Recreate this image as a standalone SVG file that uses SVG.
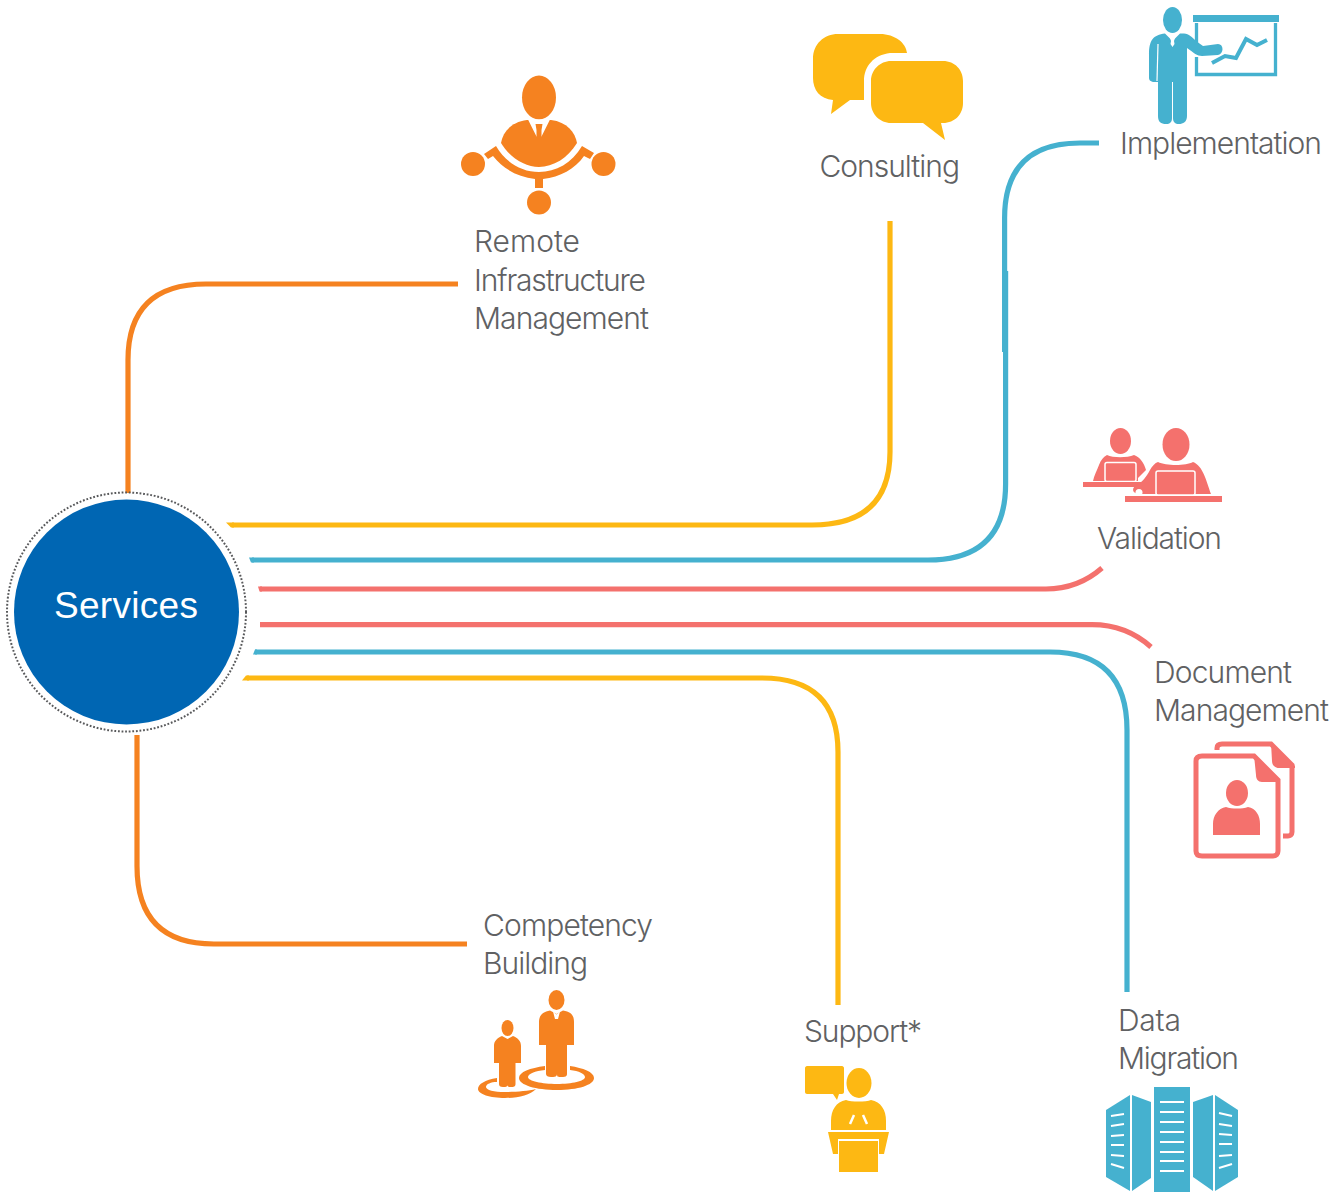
<svg xmlns="http://www.w3.org/2000/svg" width="1341" height="1193" viewBox="0 0 1341 1193">
<style>
.c{fill:none;stroke-width:5.200}
.o{stroke:#f58220}.y{stroke:#fdb813}.b{stroke:#45b1cf}.r{stroke:#f4716d}
.fo{fill:#f58220}.fy{fill:#fdb813}.fb{fill:#45b1cf}.fr{fill:#f4716d}
.t{font-family:"Inter","Liberation Sans",sans-serif;font-weight:300;font-size:30px;fill:#606163}
</style>
<rect width="1341" height="1193" fill="#fff"/>
<g id="connectors">
<path class="c o" d="M128 493V360Q128 284 206 284H458"/>
<path class="c y" d="M232 525H812Q890 525 890 452V221"/>
<polygon class="fy" points="226,522.400 234,522.400 234,527.600 231,527.600"/>
<path class="c b" d="M252 560H928Q1005.600 560 1005.600 484V271M1004.600 352V218Q1004.600 143 1080 143H1099"/>
<polygon class="fb" points="249,557.400 254,557.400 254,562.600 251,562.600"/>
<path class="c r" d="M260 589H1046Q1078 589 1102 568"/>
<polygon class="fr" points="258,586.400 262,586.400 262,591.600 259.500,591.600"/>
<path class="c r" d="M260 624.700H1092Q1126 624.700 1151 647"/>
<path class="c b" d="M255 652H1050Q1127 652 1127 730V992"/>
<polygon class="fb" points="255,649.400 257,649.400 257,654.600 253,654.600"/>
<path class="c y" d="M247 678H762Q838 678 838 752V1005"/>
<polygon class="fy" points="246,675.400 249,675.400 249,680.600 242,680.600"/>
<path class="c o" d="M137 735V866Q137 944 214 944H467"/>
</g>
<g id="services">
<circle cx="126.500" cy="612" r="119.500" fill="none" stroke="#58595b" stroke-width="2" stroke-dasharray="1.800 1.800"/>
<circle cx="126.500" cy="612" r="112.500" fill="#0066b3"/>
<text x="54" y="618" textLength="144" style="font-family:'Liberation Sans',Arial,sans-serif;font-size:37px;fill:#fff">Services</text>
</g>
<g id="remote-infrastructure-management">
<ellipse class="fo" cx="539" cy="97.500" rx="17" ry="22"/>
<path class="fo" d="M527 120C511 122 503 132 501 143C510 158 525 167 539 167C553 167 568 158 577 143C575 132 567 122 551 120Z"/>
<path fill="#fff" d="M528 119.500H550L541.500 136.500H536.500Z"/>
<path class="fo" d="M535.500 124H542.500L541.500 130 541.500 137H536.500L536.500 130Z"/>
<path class="fo" d="M484 154L496 146C506 163 522 172 539 172C556 172 572 163 582 146L594 153 590 159 584 156C575 169 560 177 543 179V188H535V179C518 177 503 169 493 156L488 159Z"/>
<circle class="fo" cx="473" cy="164" r="12"/><circle class="fo" cx="603.500" cy="164" r="12"/><circle class="fo" cx="539" cy="202.500" r="12"/>
<text class="t" x="474" y="252" textLength="106">Remote</text>
<text class="t" x="474" y="291" textLength="172">Infrastructure</text>
<text class="t" x="474" y="329" textLength="175">Management</text>
</g>
<g id="consulting">
<path class="fy" d="M838 34H880C895 34 906 43 907 53H890C874 55 864 66 864 81V100H850L831 114 833 100C820 99 813 90 813 78V59C813 44 824 34 838 34Z"/>
<path class="fy" d="M891 61H943C955 61 963 70 963 81V103C963 114 955 123 943 123H941L945 140 923 123H891C880 123 871 114 871 103V81C871 70 880 61 891 61Z"/>
<text class="t" x="819.500" y="177" textLength="140.500">Consulting</text>
</g>
<g id="implementation">
<ellipse class="fb" cx="1172.500" cy="20" rx="9.500" ry="13"/>
<path class="fb" d="M1165 33.500L1172.500 41 1180 33.500H1184C1189 34 1192 37 1196 41L1203 46 1218 44C1224 44 1224 54 1218 55L1202 56C1197 56 1194 53 1187 48V116C1187 122 1183 124 1179 124C1175 124 1173 122 1173 118V82H1172V118C1172 122 1170 124 1166 124C1161 124 1158 122 1158 116V82H1153C1150 81 1149 80 1149 78V55C1149 40 1153 35 1165 33.500Z"/>
<path fill="none" stroke="#fff" stroke-width="1.200" d="M1158 44L1157 81"/>
<path fill="#fff" d="M1169 34.500L1172.500 39 1176 34.500 1174 41 1174.500 44 1172.500 47 1170.500 44 1171 41Z"/>
<rect class="fb" x="1193" y="15" width="86" height="7"/>
<path fill="none" stroke="#45b1cf" stroke-width="3.300" d="M1196.500 23V45M1196.500 57V74.500H1275.500V23"/>
<path fill="none" stroke="#45b1cf" stroke-width="4" d="M1212 63L1225 56 1236 58 1246 39 1257 45 1267 40"/>
<text class="t" x="1120" y="154" textLength="202">Implementation</text>
</g>
<g id="validation">
<ellipse class="fr" cx="1120.500" cy="441" rx="10.500" ry="13"/>
<path class="fr" d="M1107 455C1113 458 1127 458 1134 455C1140 457 1144 463 1146 470L1138 478V481H1093C1094 476 1097 470 1099 465C1101 460 1103 457 1107 455Z"/>
<rect x="1105" y="462.500" width="31" height="19" rx="2" fill="#f4716d" stroke="#fff" stroke-width="1.500"/>
<rect class="fr" x="1083" y="482" width="60" height="5"/>
<ellipse class="fr" cx="1176" cy="444.500" rx="13.500" ry="16.500"/>
<path class="fr" d="M1158 462C1166 466 1186 466 1193 462C1203 466 1206 480 1211 494H1140C1134 494 1130 490 1136 485C1142 483 1147 476 1150 470C1152 466 1155 463 1158 462Z"/>
<rect x="1156" y="471" width="39" height="24" rx="2" fill="#f4716d" stroke="#fff" stroke-width="1.500"/>
<circle cx="1139" cy="492.500" r="3.500" fill="#fff"/>
<rect class="fr" x="1125" y="496" width="97" height="6"/>
<text class="t" x="1097" y="549" textLength="125">Validation</text>
</g>
<g id="document-management">
<path fill="none" stroke="#f4716d" stroke-width="5" d="M1217 750V748C1217 745 1219 744 1222 744H1271L1292 765V832C1292 835 1290 836 1288 836H1283"/>
<path class="fr" d="M1271 743L1295 766V768H1279C1275 768 1272 765 1272 761Z"/>
<path fill="none" stroke="#f4716d" stroke-width="5" d="M1202 756H1254L1278 780V851C1278 854 1276 856 1273 856H1202C1198 856 1196 854 1196 851V761C1196 758 1198 756 1202 756Z"/>
<path class="fr" d="M1254 755L1280 780V782H1262C1258 782 1256 779 1256 775Z"/>
<ellipse class="fr" cx="1237" cy="793" rx="11" ry="13"/>
<path class="fr" d="M1226 807C1232 809 1242 809 1248 807C1256 808 1260 816 1260 824V835H1213V824C1213 816 1218 808 1226 807Z"/>
<text class="t" x="1154" y="683" textLength="138">Document</text>
<text class="t" x="1154" y="721" textLength="175">Management</text>
</g>
<g id="data-migration">
<path class="fb" d="M1130 1095V1191L1106 1177V1110Z"/>
<path class="fb" d="M1132 1095L1151 1102V1178L1132 1191Z"/>
<rect class="fb" x="1154" y="1087" width="36" height="105"/>
<path class="fb" d="M1213 1095V1191L1193 1177V1102Z"/>
<path class="fb" d="M1215 1095L1238 1110V1177L1215 1191Z"/>
<path fill="none" stroke="#fff" stroke-width="2" d="M1160 1102H1184M1160 1112H1184M1160 1122H1184M1160 1132H1184M1160 1142H1184M1160 1152H1184M1160 1161H1184M1160 1171H1184M1111 1116L1124 1114M1111 1126L1124 1124M1111 1136L1124 1135M1111 1145H1124M1111 1155L1124 1156M1111 1164L1124 1168M1219 1113L1232 1116M1219 1124L1232 1126M1219 1134L1232 1135M1219 1144H1232M1219 1156L1232 1155M1219 1168L1232 1164"/>
<text class="t" x="1118" y="1031" textLength="63">Data</text>
<text class="t" x="1118" y="1069" textLength="121">Migration</text>
</g>
<g id="support">
<path class="fy" d="M807 1066H842C843 1066 844 1067 844 1068V1092C844 1093 843 1094 842 1094H839L837 1100 833 1094H807C806 1094 805 1093 805 1092V1068C805 1067 806 1066 807 1066Z"/>
<ellipse class="fy" cx="859" cy="1083" rx="12.500" ry="15"/>
<path class="fy" d="M846 1100C851 1102 866 1102 871 1100C881 1102 886 1110 886 1121V1130H831V1121C831 1110 836 1102 846 1100Z"/>
<path fill="none" stroke="#fff" stroke-width="2.500" d="M854 1115L850 1124M863 1115L867 1124"/>
<path class="fy" d="M828 1132H889L884 1154H879V1139H838V1154H833Z"/>
<rect class="fy" x="839" y="1141" width="39" height="31"/>
<text class="t" x="804" y="1042" textLength="118">Support*</text>
</g>
<g id="competency-building">
<ellipse class="fo" cx="556.500" cy="1000" rx="8" ry="10"/>
<path class="fo" d="M550 1010.500L556.500 1014 563 1010.500C571 1012 574 1015 574 1022V1045H567V1074C567 1077 564 1077 561 1077C558 1077 557 1077 557 1074V1050 1074C557 1077 554 1077 551 1077C548 1077 546 1076 546 1074V1045H539V1022C539 1015 543 1012 550 1010.500Z"/>
<path fill="#fff" d="M553 1011.500L556.500 1014.500 560 1011.500 558 1019H555Z"/>
<ellipse class="fo" cx="507.500" cy="1028" rx="6" ry="8"/>
<path class="fo" d="M502 1036L507.500 1039 513 1036C518 1038 521 1041 521 1046V1063H515.500V1084C515.500 1087 513 1087 511 1087C509 1087 507.500 1087 507.500 1085 507.500 1087 505 1087 503 1087C500 1087 499 1086 499 1084V1063H494V1046C494 1041 497 1038 502 1036Z"/>
<path class="fo" d="M545 1066C530 1068 519 1072 519 1078C519 1085 536 1090 557 1090C578 1090 594 1085 594 1078C594 1072 583 1068 570 1066V1070C579 1071 585 1074 585 1077C585 1081 572 1084 557 1084C542 1084 528 1081 528 1077C528 1074 535 1071 545 1070Z"/>
<path class="fo" d="M497 1078C485 1080 478 1084 478 1089C478 1094 490 1098 505 1098C518 1098 530 1095 536 1089C528 1091 516 1092 505 1092C494 1092 486 1090 486 1087C486 1084 491 1082 497 1082Z"/>
<text class="t" x="483" y="936" textLength="170">Competency</text>
<text class="t" x="483" y="974" textLength="105">Building</text>
</g>
</svg>
